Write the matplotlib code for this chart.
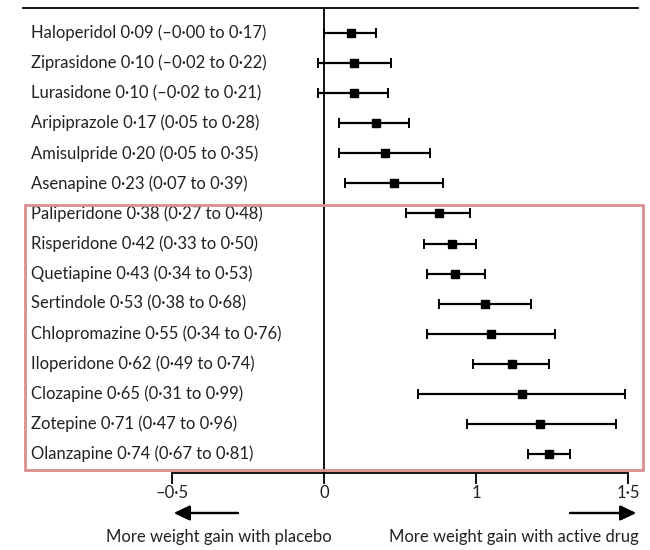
import matplotlib.pyplot as plt
from matplotlib.patches import Rectangle

# Data
drugs = ["Haloperidol", "Ziprasidone", "Lurasidone", "Aripiprazole", "Amisulpride",
         "Asenapine", "Paliperidone", "Risperidone", "Quetiapine", "Sertindole",
         "Chlopromazine", "Iloperidone", "Clozapine", "Zotepine", "Olanzapine"]
smd = [0.09, 0.10, 0.10, 0.17, 0.20, 0.23, 0.38, 0.42, 0.43, 0.53, 0.55, 0.62, 0.65, 0.71, 0.74]
lower = [-0.00, -0.02, -0.02, 0.05, 0.05, 0.07, 0.27, 0.33, 0.34, 0.38, 0.34, 0.49, 0.31, 0.47, 0.67]
upper = [0.17, 0.22, 0.21, 0.28, 0.35, 0.39, 0.48, 0.50, 0.53, 0.68, 0.76, 0.74, 0.99, 0.96, 0.81]
tick_pos = [-0.5, 0.0, 0.5, 1.0]
tick_labels = ["\u20130\u00b75", "0", "1", "1\u00b75"]


def fmt(v):
    s = "%.2f" % abs(v)
    s = s.replace(".", "\u00b7")
    if v < 0:
        s = "\u2013" + s
    return s


plt.rcParams["font.family"] = ["Lato", "DejaVu Sans"]

fig = plt.figure(figsize=(6.5, 5.5), dpi=100)
ax = fig.add_axes([23 / 650, 1 - 473 / 550, 615 / 650, 465 / 550])

rows = list(range(len(drugs)))
err = [[m - lo for m, lo in zip(smd, lower)], [hi - m for m, hi in zip(smd, upper)]]
ax.errorbar(smd, rows, xerr=err, fmt="s", color="black", ms=6, elinewidth=1.6,
            capsize=3.5, capthick=1.4, zorder=3)

for i, name in enumerate(drugs):
    # first lower bound printed as "–0·00" in the source
    lo_txt = "\u20130\u00b700" if i == 0 else fmt(lower[i])
    label = "%s %s (%s to %s)" % (name, fmt(smd[i]), lo_txt, fmt(upper[i]))
    ax.text(-0.965, i, label, ha="left", va="center", fontsize=12, color="#222222")

ax.axvline(0, color="black", lw=1.3, zorder=2)

ax.set_xlim(-0.99, 1.033)
ax.set_ylim(14.63, -0.83)
ax.set_yticks([])
ax.set_xticks(tick_pos)
ax.set_xticklabels(tick_labels, fontsize=12, color="#222222")
ax.tick_params(axis="x", length=8, width=1.3, pad=1)

for s in ["left", "right"]:
    ax.spines[s].set_visible(False)
ax.spines["top"].set_linewidth(1.3)
ax.spines["bottom"].set_linewidth(1.3)
ax.spines["bottom"].set_bounds(-0.5, 1.0)
ax.spines["bottom"].set_zorder(6)

# Highlight box
box = Rectangle((25 / 650, 1 - 469.5 / 550), 618 / 650, 264.5 / 550, transform=fig.transFigure,
                fill=False, edgecolor="#d98f8f", lw=2.0, zorder=5)
fig.add_artist(box)

# Direction arrows and captions
arrow_style = dict(arrowstyle="-|>,head_length=0.95,head_width=0.45", color="black", lw=1.6,
                   mutation_scale=10, shrinkA=0, shrinkB=0)
fig.add_artist(plt.annotate("", xy=(174 / 650, 1 - 513 / 550), xytext=(238 / 650, 1 - 513 / 550),
                            xycoords="figure fraction", arrowprops=arrow_style))
fig.add_artist(plt.annotate("", xy=(636 / 650, 1 - 513 / 550), xytext=(570 / 650, 1 - 513 / 550),
                            xycoords="figure fraction", arrowprops=arrow_style))
fig.text(219 / 650, 1 - 537 / 550, "More weight gain with placebo", ha="center", va="center",
         fontsize=12, color="#222222")
fig.text(514 / 650, 1 - 537 / 550, "More weight gain with active drug", ha="center", va="center",
         fontsize=12, color="#222222")

fig.savefig("out.png", dpi=100)
